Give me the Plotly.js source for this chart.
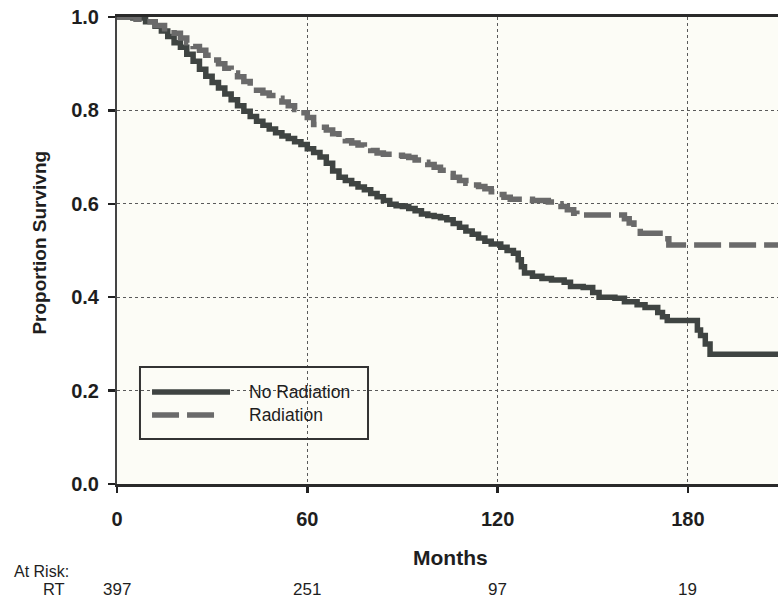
<!DOCTYPE html>
<html>
<head>
<meta charset="utf-8">
<script src="https://cdn.plot.ly/plotly-3.0.1.min.js"></script>
<style>
  html, body { margin: 0; padding: 0; overflow: hidden; background: #ffffff; }
  #chart { width: 783px; height: 599px; }
</style>
</head>
<body>
<div id="chart"></div>
<script>
// Kaplan-Meier survival estimates (months, proportion surviving)
const noRadMonths = [0,5,9,12,14,16,18,20,22,24,26,28,30,32,34,36,38,40,42,44,46,48,50,52,54,56,58,60,62,64,66,68,70,72,74,76,78,80,82,84,86,88,90,92,94,96,98,100,102,104,106,108,110,112,114,116,118,121,123,125,126.5,127.5,128.5,131,134,137,141,143,147,150,152,157,160,164,166.5,170.5,172,173.5,183,184,185.5,187,210];
const noRadSurv = [1.0,0.998,0.99,0.98,0.97,0.958,0.945,0.935,0.92,0.905,0.888,0.873,0.86,0.848,0.835,0.823,0.81,0.798,0.787,0.777,0.768,0.76,0.752,0.745,0.74,0.733,0.727,0.718,0.71,0.70,0.687,0.67,0.657,0.65,0.643,0.636,0.63,0.622,0.615,0.607,0.599,0.596,0.594,0.59,0.585,0.578,0.575,0.573,0.57,0.566,0.558,0.55,0.542,0.535,0.527,0.52,0.514,0.507,0.5,0.494,0.48,0.465,0.452,0.445,0.44,0.437,0.432,0.423,0.421,0.41,0.40,0.398,0.39,0.384,0.378,0.367,0.358,0.35,0.33,0.318,0.30,0.278,0.278];

const radMonths = [0,6,9,12,15,18,20,22,24,26,28,30,32,34,36,38,40,42,44,46,48,50,52,54,56,58,60,62,64,66,68,70,72,74,76,78,80,82,84,87,90,92,94,96,98,100,102,104,106,108,110,112,114,116,118,120,122,124,131,136,138,140,142,144,145,160,161.5,163,165,172.5,174,210];
const radSurv = [1.0,0.995,0.99,0.982,0.975,0.965,0.955,0.945,0.937,0.929,0.918,0.908,0.90,0.89,0.88,0.872,0.862,0.852,0.843,0.837,0.832,0.826,0.818,0.81,0.802,0.795,0.785,0.77,0.764,0.758,0.75,0.74,0.735,0.73,0.726,0.72,0.714,0.709,0.706,0.704,0.702,0.699,0.694,0.689,0.684,0.678,0.672,0.665,0.657,0.65,0.644,0.64,0.637,0.632,0.626,0.62,0.614,0.61,0.607,0.604,0.60,0.594,0.587,0.58,0.576,0.568,0.559,0.548,0.537,0.525,0.512,0.512];

// Axis ticks
const monthTicks = [0, 60, 120, 180];
const survTicks = [0, 0.2, 0.4, 0.6, 0.8, 1.0];

// Number at risk in the radiation group
const riskMonths = [0, 60, 120, 180];
const riskRT = [397, 251, 97, 19];

const FONT = '"Liberation Sans", Arial, Helvetica, sans-serif';
const INK = '#1e1e1e';

const series = [
  { name: 'No Radiation', x: noRadMonths, y: noRadSurv,
    line: { shape: 'hv', color: '#3f4442', width: 5.5 } },
  { name: 'Radiation', x: radMonths, y: radSurv,
    line: { shape: 'hv', color: '#6a6a6a', width: 5.5, dash: '27px,8px' } }
];

const traces = series.map(s => ({
  name: s.name, x: s.x, y: s.y,
  type: 'scatter', mode: 'lines',
  line: s.line, cliponaxis: false, showlegend: false
}));

// Key box drawn in paper coordinates, using each series' own line style
const key = { x0: 0.0345, x1: 0.3769, y0: 0.0964, y1: 0.2505,
              sampleX0: 0.0526, sampleX1: [0.1697, 0.1517], textX: 0.1952,
              rowY: [0.197, 0.1478] };

const shapes = [
  { type: 'rect', xref: 'paper', yref: 'paper',
    x0: key.x0, x1: key.x1, y0: key.y0, y1: key.y1,
    line: { color: '#333333', width: 2 }, fillcolor: 'rgba(0,0,0,0)' }
];
series.forEach((s, i) => {
  shapes.push({
    type: 'line', xref: 'paper', yref: 'paper',
    x0: key.sampleX0, x1: key.sampleX1[i], y0: key.rowY[i], y1: key.rowY[i],
    line: { color: s.line.color, width: s.line.width, dash: s.line.dash || 'solid' }
  });
});

const annotations = [
  { text: 'Months', xref: 'paper', yref: 'paper', x: 0.5, y: -0.158,
    xanchor: 'center', yanchor: 'middle', showarrow: false,
    font: { family: FONT, size: 21, color: INK, weight: 'bold' } },
  { text: 'Proportion Survivng', xref: 'paper', yref: 'paper', x: -0.1156, y: 0.517,
    xanchor: 'center', yanchor: 'middle', textangle: -90, showarrow: false,
    font: { family: FONT, size: 19, color: INK, weight: 'bold' } },
  { text: 'At Risk:', xref: 'paper', yref: 'paper', x: -0.158, y: -0.188,
    xanchor: 'left', yanchor: 'middle', showarrow: false,
    font: { family: FONT, size: 16, color: INK } },
  { text: 'RT', xref: 'paper', yref: 'paper', x: -0.075, y: -0.225,
    xanchor: 'right', yanchor: 'middle', showarrow: false,
    font: { family: FONT, size: 16.5, color: INK } }
];
series.forEach((s, i) => {
  annotations.push({
    text: s.name, xref: 'paper', yref: 'paper', x: key.textX, y: key.rowY[i],
    xanchor: 'left', yanchor: 'middle', showarrow: false,
    font: { family: FONT, size: 17.5, color: INK }
  });
});
riskMonths.forEach((m, i) => {
  annotations.push({
    text: String(riskRT[i]), xref: 'x', yref: 'paper', x: m, y: -0.225,
    xanchor: 'center', yanchor: 'middle', showarrow: false,
    font: { family: FONT, size: 17, color: INK }
  });
});

const layout = {
  width: 783, height: 599,
  margin: { l: 117, r: 0, t: 17, b: 115 },
  paper_bgcolor: '#ffffff',
  plot_bgcolor: '#fcfcf6',
  showlegend: false,
  xaxis: {
    range: [0, 210], autorange: false,
    tickvals: monthTicks, ticktext: monthTicks.map(String),
    ticks: 'outside', ticklen: 6, tickwidth: 2.5, tickcolor: '#222',
    ticklabelstandoff: 9,
    tickfont: { family: FONT, size: 20, color: INK, weight: 'bold' },
    showline: true, linecolor: '#2a2a2a', linewidth: 3, mirror: true,
    showgrid: true, gridcolor: '#5a5a5a', gridwidth: 1, griddash: 'dot',
    zeroline: false, fixedrange: true
  },
  yaxis: {
    range: [0, 1], autorange: false,
    tickvals: survTicks, tickformat: '.1f',
    ticks: 'outside', ticklen: 7, tickwidth: 2.5, tickcolor: '#222',
    ticklabelstandoff: 5,
    tickfont: { family: FONT, size: 20, color: INK, weight: 'bold' },
    showline: true, linecolor: '#444', linewidth: 2,
    showgrid: true, gridcolor: '#5a5a5a', gridwidth: 1, griddash: 'dot',
    zeroline: false, fixedrange: true
  },
  shapes: shapes,
  annotations: annotations
};

Plotly.newPlot('chart', traces, layout, { staticPlot: true, displayModeBar: false });
</script>
</body>
</html>
